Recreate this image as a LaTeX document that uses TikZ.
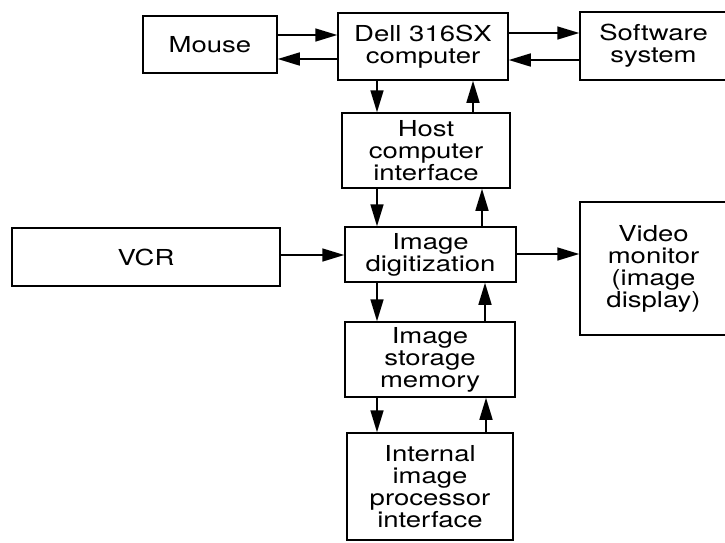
\documentclass[tikz,border=0pt]{standalone}
\usepackage{fontspec}
\setmainfont{TeX Gyre Heros}[FakeStretch=1.25]
\usetikzlibrary{arrows.meta}
\begin{document}
\begin{tikzpicture}[x=1pt,y=-1pt,
  box/.style={draw, line width=1.5pt, inner sep=0pt, align=center,
    font=\fontsize{22}{22}\selectfont},
  arr/.style={line width=1.6pt, -{Triangle[length=22pt,width=13pt]}}]
\useasboundingbox (0,0) rectangle (725,542);
\node[box, minimum width=134pt, minimum height=57pt] (mouse) at (210,44.5) {Mouse};
\node[box, minimum width=170pt, minimum height=67pt] (dell) at (423,46.5) {Dell 316SX\\computer};
\node[box, minimum width=147pt, minimum height=68pt] (soft) at (653.5,46) {Software\\system};
\node[box, minimum width=168pt, minimum height=75pt] (host) at (426,150.5) {Host\\computer\\interface};
\node[box, minimum width=268pt, minimum height=58pt] (vcr) at (146,257) {VCR};
\node[box, minimum width=171pt, minimum height=55pt] (dig) at (430.5,254.5) {Image\\digitization};
\node[box, minimum width=147pt, minimum height=133pt] (video) at (653.5,268.5) {Video\\monitor\\(image\\display)};
\node[box, minimum width=170pt, minimum height=75pt] (store) at (430,359.5) {Image\\storage\\memory};
\node[box, minimum width=166pt, minimum height=107pt] (ipi) at (430,486.5) {Internal\\image\\processor\\interface};
% guide coordinates
\coordinate (r1) at (0,35);
\coordinate (r2) at (0,59);
\coordinate (r3) at (0,33);
\coordinate (r4) at (0,60);
\coordinate (r5) at (0,255);
\coordinate (r6) at (0,254);
\coordinate (cd) at (377,0);
\coordinate (cu1) at (473,0);
\coordinate (cu2) at (482,0);
\coordinate (cu3) at (485,0);
\coordinate (cu4) at (486,0);
% horizontal connectors
\draw[arr] (mouse.east |- r1) -- (dell.west |- r1);
\draw[arr] (dell.west |- r2) -- (mouse.east |- r2);
\draw[arr] (dell.east |- r3) -- (soft.west |- r3);
\draw[arr] (soft.west |- r4) -- (dell.east |- r4);
\draw[arr] (vcr.east |- r5) -- (dig.west |- r5);
\draw[arr] (dig.east |- r6) -- (video.west |- r6);
% vertical connectors
\draw[arr] (cd |- dell.south) -- (cd |- host.north);
\draw[arr] (cu1 |- host.north) -- (cu1 |- dell.south);
\draw[arr] (cd |- host.south) -- (cd |- dig.north);
\draw[arr] (cu2 |- dig.north) -- (cu2 |- host.south);
\draw[arr] (cd |- dig.south) -- (cd |- store.north);
\draw[arr] (cu3 |- store.north) -- (cu3 |- dig.south);
\draw[arr] (cd |- store.south) -- (cd |- ipi.north);
\draw[arr] (cu4 |- ipi.north) -- (cu4 |- store.south);
\end{tikzpicture}
\end{document}
